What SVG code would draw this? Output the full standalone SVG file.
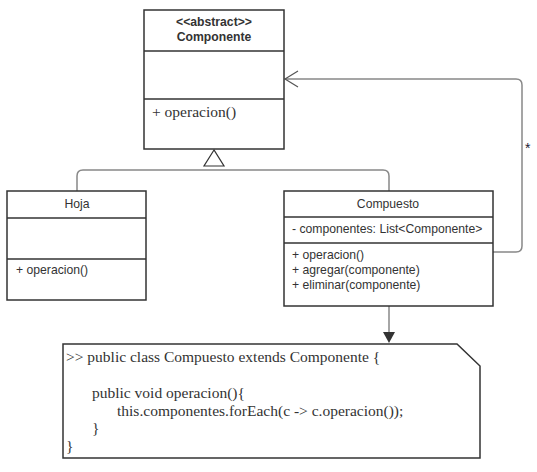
<svg xmlns="http://www.w3.org/2000/svg" width="537" height="472" viewBox="0 0 537 472">
<style>
.box{fill:#fff;stroke:#333;stroke-width:1.5}
.sep{stroke:#333;stroke-width:1.5}
.s{font-family:"Liberation Sans",Arial,sans-serif;font-size:12.2px;fill:#333}
.b{font-weight:bold}
.r{font-family:"Liberation Serif","Times New Roman",serif;font-size:15.5px;fill:#333}
.con{fill:none;stroke:#888;stroke-width:1.5}
</style>
<rect width="537" height="472" fill="#fff"/>
<g id="connectors">
<path class="con" d="M77,191 V176 Q77,170 83,170 H383 Q389,170 389,176 V191"/>
<polygon points="214,150 204,166 224,166" fill="#fff" stroke="#333" stroke-width="1.2"/>
<path class="con" d="M493,252 H516 Q522,252 522,246 V85 Q522,79 516,79 H285"/>
<path d="M298,71 L285,79 L298,87" fill="none" stroke="#555" stroke-width="1.2"/>
<text x="525" y="153" style="font-family:'Liberation Sans',Arial,sans-serif;font-size:14px;fill:#223">*</text>
<path class="con" d="M389,306 V333"/>
<polygon points="383,332 395,332 389,343" fill="#333"/>
</g>
<g id="Componente">
<rect class="box" x="144" y="10" width="140" height="139"/>
<line class="sep" x1="144" y1="51" x2="284" y2="51"/>
<line class="sep" x1="144" y1="99" x2="284" y2="99"/>
<text class="s b" x="214" y="26" text-anchor="middle">&lt;&lt;abstract&gt;&gt;</text>
<text class="s b" x="214" y="41" text-anchor="middle">Componente</text>
<text class="r" x="152" y="117">+ operacion()</text>
</g>
<g id="Hoja">
<rect class="box" x="7" y="191" width="139" height="109"/>
<line class="sep" x1="7" y1="218" x2="146" y2="218"/>
<line class="sep" x1="7" y1="259" x2="146" y2="259"/>
<text class="s" x="77" y="208" text-anchor="middle">Hoja</text>
<text class="s" x="16" y="274">+ operacion()</text>
</g>
<g id="Compuesto">
<rect class="box" x="284" y="191" width="209" height="115"/>
<line class="sep" x1="284" y1="217" x2="493" y2="217"/>
<line class="sep" x1="284" y1="243" x2="493" y2="243"/>
<text class="s" x="388" y="208" text-anchor="middle">Compuesto</text>
<text class="s" x="292" y="233">- componentes: List&lt;Componente&gt;</text>
<text class="s" x="292" y="259">+ operacion()</text>
<text class="s" x="292" y="274">+ agregar(componente)</text>
<text class="s" x="292" y="289">+ eliminar(componente)</text>
</g>
<g id="Nota">
<path class="box" d="M63,344 H457 L480,366 V458 H63 Z"/>
<text class="r" x="66" y="362">&gt;&gt; public class Compuesto extends Componente {</text>
<text class="r" x="92" y="398">public void operacion(){</text>
<text class="r" x="117" y="416">this.componentes.forEach(c -&gt; c.operacion());</text>
<text class="r" x="92" y="433">}</text>
<text class="r" x="66" y="451">}</text>
</g>
</svg>
